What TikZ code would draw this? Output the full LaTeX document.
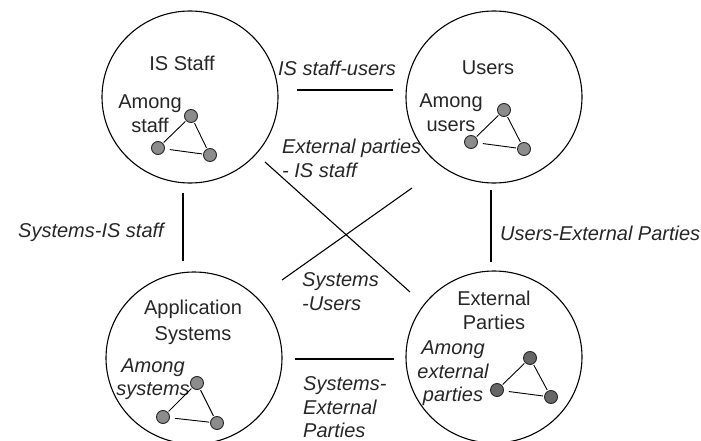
\documentclass[tikz,border=0pt]{standalone}
\usepackage{fontspec}
\setmainfont{Liberation Sans}
\usetikzlibrary{shapes.geometric}
\begin{document}
\begin{tikzpicture}[x=1pt,y=-1pt,
  every node/.style={inner sep=0pt},
  party/.style={draw, line width=1.1pt, ellipse, minimum width=176pt, minimum height=172pt},
  lbl/.style={font=\fontsize{20}{23.5}\selectfont, text=black!85},
  rel/.style={font=\fontsize{20}{23.5}\selectfont\itshape, text=black!85},
  link/.style={line width=1.1pt},
  dot/.style={circle, draw=black!85, fill=black!45, line width=0.9pt, minimum size=13pt},
  darkdot/.style={dot, fill=black!60},
  tie/.style={line width=0.9pt, shorten <=1pt, shorten >=1pt}
]
\useasboundingbox (0,0) rectangle (701,441);

% the four parties
\node[party] (is) at (190,97) {};
\node[party] (us) at (494,97) {};
\node[party] (ap) at (194,358) {};
\node[party] (ep) at (494,357) {};

% names and internal relations
\node[lbl] (isname) at (182,63) {IS Staff};
\node[lbl, align=center] (isamong) at (150,113.5) {Among\\staff};
\node[lbl] (usname) at (488,68) {Users};
\node[lbl, align=center] (usamong) at (451,112.5) {Among\\users};
\node[lbl, align=center] (apname) at (193,322.5) {Application\\[3pt]Systems};
\node[rel, align=center] (apamong) at (153,379) {Among\\systems};
\node[lbl, align=center] (epname) at (494,310.5) {External\\Parties};
\node[rel, align=center] (epamong) at (453,373.5) {Among\\external\\parties};

% small triangles of members
\node[dot] (is1) at (191,116) {};
\node[dot] (is2) at (158,148) {};
\node[dot] (is3) at (210,155) {};
\node[dot] (us1) at (504,110) {};
\node[dot] (us2) at (471,142) {};
\node[dot] (us3) at (524,149) {};
\node[dot] (ap1) at (197,383) {};
\node[dot] (ap2) at (163,417) {};
\node[dot] (ap3) at (217,423) {};
\node[darkdot] (ep1) at (530,358) {};
\node[darkdot] (ep2) at (497,390) {};
\node[darkdot] (ep3) at (551,397) {};
\foreach \g in {is,us,ap,ep}{
  \draw[tie] (\g1) -- (\g2);
  \draw[tie] (\g1) -- (\g3);
  \draw[tie, shorten <=5pt] (\g2) -- (\g3);
}

% relations between parties
\coordinate (top1) at (297,90);
\coordinate (top2) at (393,90);
\coordinate (lft1) at (183,193);
\coordinate (lft2) at (183,261);
\coordinate (rgt1) at (491,190);
\coordinate (rgt2) at (491,262);
\coordinate (bot1) at (295,359);
\coordinate (bot2) at (394,359);
\coordinate (da1) at (265,162);
\coordinate (da2) at (410,292);
\coordinate (db1) at (412,188);
\coordinate (db2) at (282,280);

\draw[link] (top1) -- (top2);
\draw[link] (lft1) -- (lft2);
\draw[link] (rgt1) -- (rgt2);
\draw[link] (bot1) -- (bot2);
\draw[link] (da1) -- (da2);
\draw[link] (db1) -- (db2);

\node[rel] (ltop) at (337,68) {IS staff-users};
\node[rel] (llft) at (91,232) {Systems-IS staff};
\node[rel, anchor=west] (lrgt) at (500,233) {Users-External Parties};
\node[rel, anchor=west, align=left] (lda) at (282,158.5) {External parties\\- IS staff};
\node[rel, anchor=west, align=left] (ldb) at (302,291.5) {Systems\\-Users};
\node[rel, anchor=west, align=left] (lbot) at (303,407.5) {Systems-\\External\\Parties};
\end{tikzpicture}
\end{document}
